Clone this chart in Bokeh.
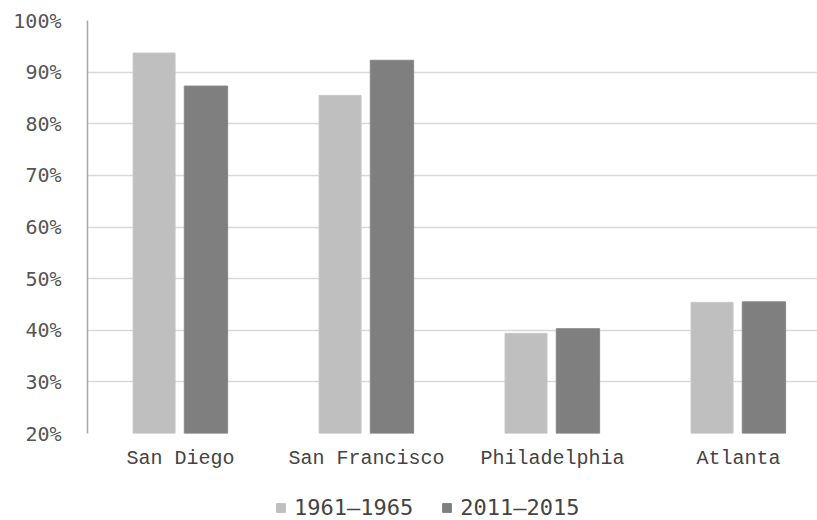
from bokeh.plotting import figure
from bokeh.layouts import column
from bokeh.models import (ColumnDataSource, Range1d, FixedTicker, PrintfTickFormatter,
                          Legend, LegendItem)
from bokeh.transform import dodge
from bokeh.embed import file_html
from bokeh.resources import INLINE

cities = ["San Diego", "San Francisco", "Philadelphia", "Atlanta"]
series_names = ["1961\u20131965", "2011\u20132015"]
v_1961_1965 = [93.7, 85.5, 39.4, 45.4]
v_2011_2015 = [87.3, 92.3, 40.3, 45.5]
y_ticks = [20, 30, 40, 50, 60, 70, 80, 90, 100]

light = "#bfbfbf"
dark = "#7f7f7f"

xpos = [i + 0.5 for i in range(len(cities))]
src = ColumnDataSource(dict(x=xpos, a=v_1961_1965, b=v_2011_2015))

p = figure(width=817, height=474, output_backend="svg", toolbar_location=None,
           x_range=Range1d(0, 3.925), y_range=Range1d(20, 100),
           min_border_left=87, min_border_right=0, min_border_top=20,
           min_border_bottom=41)
p.outline_line_color = None

p.vbar(x=dodge("x", -0.142, range=p.x_range), top="a", bottom=20, width=0.226,
       source=src, fill_color=light, line_color="#c8c8c8", line_width=1)
p.vbar(x=dodge("x", 0.137, range=p.x_range), top="b", bottom=20, width=0.233,
       source=src, fill_color=dark, line_color="#888888", line_width=1)

p.xaxis.ticker = FixedTicker(ticks=xpos)
p.xaxis.major_label_overrides = {x: c for x, c in zip(xpos, cities)}
p.xaxis.axis_line_color = None
p.xaxis.major_tick_line_color = None
p.xaxis.minor_tick_line_color = None
p.xaxis.major_label_text_font = "Liberation Mono"
p.xaxis.major_label_text_font_size = "20px"
p.xaxis.major_label_text_color = "#444444"
p.xaxis.major_label_standoff = 7

p.yaxis.ticker = FixedTicker(ticks=y_ticks)
p.yaxis.formatter = PrintfTickFormatter(format="%d%%")
p.yaxis.axis_line_color = "#a6a6a6"
p.yaxis.axis_line_width = 1.5
p.yaxis.major_tick_line_color = None
p.yaxis.minor_tick_line_color = None
p.yaxis.major_label_text_font = "DejaVu Sans Mono"
p.yaxis.major_label_text_font_size = "20px"
p.yaxis.major_label_text_color = "#555555"
p.yaxis.major_label_standoff = 20

p.xgrid.grid_line_color = None
p.ygrid.grid_line_color = "#d9d9d9"
p.ygrid.grid_line_width = 1.5

# legend strip below the chart (its bars lie outside its visible range)
p2 = figure(width=817, height=46, output_backend="svg", toolbar_location=None,
            x_range=Range1d(0, 1), y_range=Range1d(1000, 1001),
            x_axis_type=None, y_axis_type=None,
            min_border_left=0, min_border_right=0, min_border_top=0,
            min_border_bottom=0)
p2.outline_line_color = None
p2.xgrid.visible = False
p2.ygrid.visible = False
g1 = p2.vbar(x="x", top="a", width=0.1, source=src, fill_color=light, line_color=light)
g2 = p2.vbar(x="x", top="b", width=0.1, source=src, fill_color=dark, line_color=dark)

legend = Legend(items=[LegendItem(label=series_names[0], renderers=[g1]),
                       LegendItem(label=series_names[1], renderers=[g2])],
                orientation="horizontal", location=(188, 0),
                label_text_font="DejaVu Sans Mono", label_text_font_size="22px",
                label_text_color="#444444", glyph_width=11, glyph_height=11,
                spacing=28, label_standoff=8, border_line_color=None,
                background_fill_alpha=0, margin=0, padding=0)
p2.add_layout(legend, "center")

open("out.html", "w").write(file_html(column(p, p2, spacing=0), INLINE))
